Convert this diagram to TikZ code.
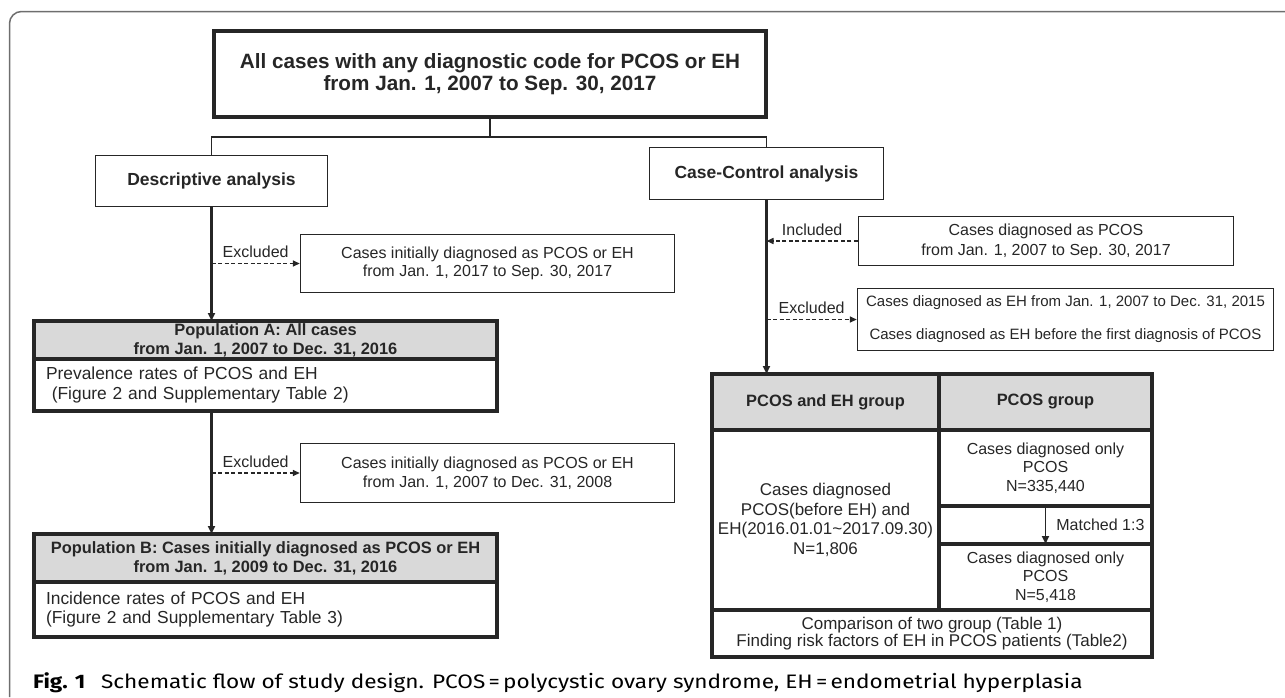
\documentclass[tikz,border=0pt]{standalone}
\usepackage{fontspec}
\setmainfont{Liberation Sans}
\newfontfamily\capfont[FakeStretch=1.16]{Fira Sans}
\usepackage{tikz}
\usetikzlibrary{positioning,arrows.meta,calc}
\definecolor{ink}{HTML}{262626}
\definecolor{hdrgray}{HTML}{D9D9D9}
\definecolor{framegray}{HTML}{6E6E6E}
\tikzset{
  box/.style   = {draw=ink, line width=1.4pt, align=center, text=ink,
                  inner sep=2pt, font=\fontsize{16}{18.5}\selectfont},
  heavy/.style = {box, line width=4pt, outer sep=0pt},
  hdr/.style   = {heavy, fill=hdrgray, font=\fontsize{16.4}{19}\selectfont\bfseries},
  lead/.style  = {box, font=\fontsize{17.5}{20}\selectfont\bfseries},
  link/.style  = {draw=ink, line width=1.8pt},
  ar/.style    = {-{Triangle[length=8pt,width=7pt]}, draw=ink, line width=2.2pt},
  dar/.style   = {-{Triangle[length=7pt,width=6pt]}, draw=ink, line width=1.5pt,
                  dash pattern=on 4pt off 2.5pt},
  lbl/.style   = {font=\fontsize{16}{18}\selectfont, text=ink, inner sep=1pt},
}

\begin{document}
\begin{tikzpicture}[x=1pt,y=-1pt]
\useasboundingbox (0,0) rectangle (1285,697);

% frame
\draw[framegray, line width=1.5pt, rounded corners=12pt]
  (9.5,697) -- (9.5,11.5) -- (1285,11.5);

\node[heavy, minimum width=552pt, minimum height=86pt,
      font=\fontsize{20.7}{21.8}\selectfont\bfseries] (all) at (490,74)
     {All cases with any diagnostic code for PCOS or EH\\
      from Jan. 1, 2007 to Sep. 30, 2017};

\node[lead, minimum width=232pt, minimum height=51pt] (desc) at (211.5,181)
     {Descriptive analysis};
\node[lead, minimum width=234pt, minimum height=52pt] (cc) at (766.5,173.5)
     {Case-Control analysis};

% descriptive branch
\node[box, minimum width=374pt, minimum height=58pt] (exA) at (487.5,263.5)
     {Cases initially diagnosed as PCOS or EH\\
      from Jan. 1, 2017 to Sep. 30, 2017};

\node[hdr, minimum width=463pt, minimum height=38pt] (popAh) at (265.5,340)
     {Population A: All cases\\from Jan. 1, 2007 to Dec. 31, 2016};
\node[heavy, minimum width=463pt, minimum height=52pt, align=left,
      text width=439pt, inner xsep=12pt, font=\fontsize{17.4}{19.5}\selectfont]
     (popAb) at (265.5,385)
     {Prevalence rates of PCOS and EH\\
      \ (Figure 2 and Supplementary Table 2)};

\node[box, minimum width=374pt, minimum height=59pt] (exB) at (487.5,473)
     {Cases initially diagnosed as PCOS or EH\\
      from Jan. 1, 2007 to Dec. 31, 2008};

\node[hdr, minimum width=463pt, minimum height=48pt] (popBh) at (265.5,558)
     {Population B: Cases initially diagnosed as PCOS or EH\\
      from Jan. 1, 2009 to Dec. 31, 2016};
\node[heavy, minimum width=463pt, minimum height=55pt, align=left,
      text width=439pt, inner xsep=12pt, font=\fontsize{17.4}{19.5}\selectfont]
     (popBb) at (265.5,609.5)
     {Incidence rates of PCOS and EH\\
      (Figure 2 and Supplementary Table 3)};

% case-control branch
\node[box, minimum width=375pt, minimum height=49pt,
      font=\fontsize{16}{20}\selectfont] (inc) at (1046,241)
     {Cases diagnosed as PCOS\\from Jan. 1, 2007 to Sep. 30, 2017};
\node[box, minimum width=416pt, minimum height=62pt,
      font=\fontsize{15}{18}\selectfont] (exC) at (1065.5,319.5)
     {Cases diagnosed as EH from Jan. 1, 2007 to Dec. 31, 2015\\[15pt]
      Cases diagnosed as EH before the first diagnosis of PCOS};

\node[hdr, minimum width=227pt, minimum height=56pt] (pe) at (825.5,402)
     {PCOS and EH group};
\node[hdr, minimum width=213pt, minimum height=56pt] (pg) at (1045.5,402)
     {PCOS group};
\node[heavy, minimum width=227pt, minimum height=180pt,
      font=\fontsize{17}{19.5}\selectfont] (peN) at (825.5,520)
     {Cases diagnosed\\PCOS(before EH) and\\
      EH(2016.01.01\textasciitilde 2017.09.30)\\N=1,806};
\node[heavy, minimum width=213pt, minimum height=76pt] (pgN) at (1045.5,468)
     {Cases diagnosed only\\PCOS\\N=335,440};
\node[heavy, minimum width=213pt, minimum height=66pt] (pgM) at (1045.5,577)
     {Cases diagnosed only\\PCOS\\N=5,418};
\node[heavy, minimum width=440pt, minimum height=47pt,
      font=\fontsize{17}{17.5}\selectfont] (cmp) at (932,633.5)
     {Comparison of two group (Table 1)\\
      Finding risk factors of EH in PCOS patients (Table2)};

% connectors
\coordinate (jn) at (490,137);
\draw[link] (all.south) -- (jn);
\draw[link] (desc.north) -- (desc.north |- jn) -- (cc.north |- jn) -- (cc.north);

\draw[ar] (desc.south) -- (desc.south |- popAh.north);
\draw[dar] (desc.south |- exA.west) -- (exA.west)
  node[lbl, midway, above=4pt] {Excluded};
\draw[ar] (popAb.south -| desc.south) -- (desc.south |- popBh.north);
\draw[dar] (desc.south |- exB.west) -- (exB.west)
  node[lbl, midway, above=4pt] {Excluded};

\draw[ar] (cc.south) -- (cc.south |- pe.north);
\draw[dar] (inc.west) -- (cc.south |- inc.west)
  node[lbl, midway, above=4pt] {Included};
\draw[dar] (cc.south |- exC.west) -- (exC.west)
  node[lbl, midway, above=4pt] {Excluded};

\draw[ink, line width=4pt] (pgN.south east) -- (pgM.north east);
\draw[ar, line width=1.8pt] (pgN.south) -- (pgM.north)
  node[lbl, midway, right=9pt] {Matched 1:3};

% caption
\node[anchor=base west, inner sep=0pt, font=\capfont\fontsize{19.5}{22}\selectfont]
     (cap) at (33,688)
     {\textbf{Fig. 1}\hspace{0.8em}Schematic flow of study design.
      PCOS\,=\,polycystic ovary syndrome, EH\,=\,endometrial hyperplasia};
\end{tikzpicture}
\end{document}
